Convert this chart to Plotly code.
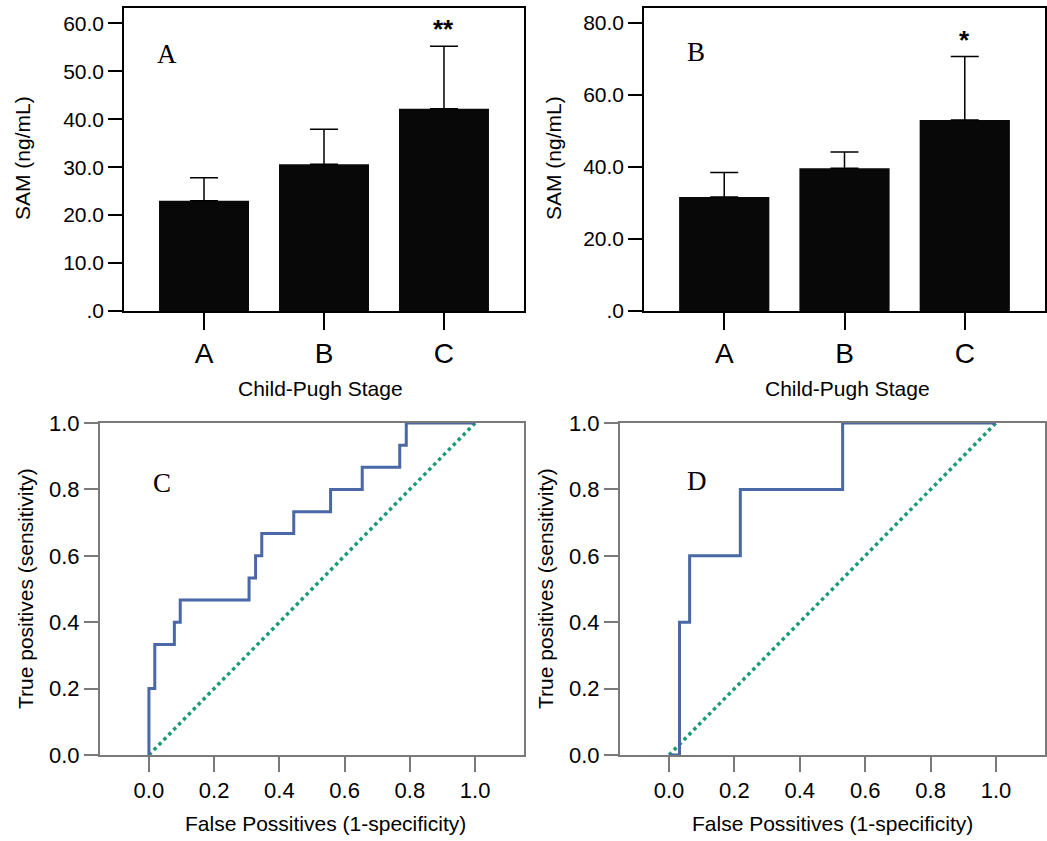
import plotly.graph_objects as go

# ---------------- data ----------------
stages = ["A", "B", "C"]
sam_a_mean = [23.0, 30.6, 42.2]
sam_a_sd = [4.8, 7.3, 13.0]
sam_a_sig = ["", "", "**"]
sam_b_mean = [31.7, 39.7, 53.1]
sam_b_sd = [6.8, 4.5, 17.6]
sam_b_sig = ["", "", "*"]

bar_a_tickvals = [0, 10, 20, 30, 40, 50, 60]
bar_a_ticktext = [".0", "10.0", "20.0", "30.0", "40.0", "50.0", "60.0"]
bar_b_tickvals = [0, 20, 40, 60, 80]
bar_b_ticktext = [".0", "20.0", "40.0", "60.0", "80.0"]

roc_c_fpr = [0.0, 0.018, 0.078, 0.096, 0.307, 0.327, 0.346, 0.444, 0.557, 0.654, 0.769, 0.789, 1.0]
roc_c_tpr = [0.0, 0.200, 0.333, 0.400, 0.467, 0.533, 0.600, 0.667, 0.733, 0.800, 0.867, 0.933, 1.0]
roc_d_fpr = [0.0, 0.032, 0.063, 0.218, 0.531, 1.0]
roc_d_tpr = [0.0, 0.0, 0.4, 0.6, 0.8, 1.0]
ref_x = [0.0, 1.0]
ref_y = [0.0, 1.0]
roc_tickvals = [0.0, 0.2, 0.4, 0.6, 0.8, 1.0]
roc_ticktext = ["0.0", "0.2", "0.4", "0.6", "0.8", "1.0"]

W, H = 1047, 841
SANS = "Arial, Liberation Sans, sans-serif"
SERIF = "Times New Roman, Liberation Serif, serif"
BLUE = "#4a67a6"
GREEN = "#1b9a78"
GRAY = "#7a7a7a"


def fx(px):
    return px / W


def fy(py):
    return 1 - py / H


fig = go.Figure()

# bar panels
for i, (mean, sd, sig) in enumerate([(sam_a_mean, sam_a_sd, sam_a_sig), (sam_b_mean, sam_b_sd, sam_b_sig)]):
    ax = "" if i == 0 else "2"
    fig.add_trace(go.Bar(
        x=stages, y=mean, width=0.75,
        marker=dict(color="#080808", line=dict(width=0)),
        error_y=dict(type="data", array=sd, arrayminus=[0] * len(sd), symmetric=False,
                     color="black", thickness=1.5, width=14),
        xaxis="x" + ax, yaxis="y" + ax, showlegend=False,
    ))
    for s, m, e, t in zip(stages, mean, sd, sig):
        if t:
            fig.add_annotation(x=s, y=m + e, xref="x" + ax, yref="y" + ax, text="<b>" + t + "</b>",
                               showarrow=False, yanchor="bottom", yshift=0,
                               font=dict(family=SANS, size=26, color="black"))

# ROC panels
for i, (fpr, tpr) in enumerate([(roc_c_fpr, roc_c_tpr), (roc_d_fpr, roc_d_tpr)]):
    ax = str(i + 3)
    fig.add_trace(go.Scatter(
        x=ref_x, y=ref_y, mode="lines",
        line=dict(color=GREEN, width=3.5, dash="dot"),
        xaxis="x" + ax, yaxis="y" + ax, showlegend=False, cliponaxis=False,
    ))
    fig.add_trace(go.Scatter(
        x=fpr, y=tpr, mode="lines",
        line=dict(color=BLUE, width=3, shape="vh"),
        xaxis="x" + ax, yaxis="y" + ax, showlegend=False, cliponaxis=False,
    ))

bar_x = dict(showline=True, linecolor="black", linewidth=1.5, mirror=True,
             ticks="outside", ticklen=17, tickwidth=1.5, tickcolor="black",
             showgrid=False, zeroline=False, range=[-0.667, 2.667], automargin=False,
             tickfont=dict(family=SANS, size=28, color="black"))
bar_y = dict(showline=True, linecolor="black", linewidth=1.5, mirror=True,
             ticks="outside", ticklen=14, tickwidth=1.5, tickcolor="black",
             showgrid=False, zeroline=False, automargin=False,
             tickfont=dict(family=SANS, size=21, color="black"))
roc_x = dict(showline=True, linecolor=GRAY, linewidth=2, mirror=True,
             ticks="outside", ticklen=15, tickwidth=1.5, tickcolor=GRAY,
             showgrid=False, zeroline=False, range=[-0.15, 1.15], automargin=False,
             tickvals=roc_tickvals, ticktext=roc_ticktext, layer="above traces",
             tickfont=dict(family=SANS, size=22, color="black"))
roc_y = dict(showline=True, linecolor=GRAY, linewidth=2, mirror=True,
             ticks="outside", ticklen=14, tickwidth=1.5, tickcolor=GRAY,
             showgrid=False, zeroline=False, range=[0, 1], automargin=False,
             tickvals=roc_tickvals, ticktext=roc_ticktext, layer="above traces",
             tickfont=dict(family=SANS, size=22, color="black"))

fig.update_layout(
    width=W, height=H, margin=dict(l=0, r=0, t=0, b=0, pad=0, autoexpand=False),
    paper_bgcolor="white", plot_bgcolor="white", showlegend=False,
    bargap=0.25,
    xaxis=dict(bar_x, domain=[fx(124), fx(524)], anchor="y"),
    yaxis=dict(bar_y, domain=[fy(311), fy(8)], range=[0, 63.2],
               tickvals=bar_a_tickvals, ticktext=bar_a_ticktext, anchor="x"),
    xaxis2=dict(bar_x, domain=[fx(644), fx(1045)], anchor="y2"),
    yaxis2=dict(bar_y, domain=[fy(311), fy(8)], range=[0, 84.2],
                tickvals=bar_b_tickvals, ticktext=bar_b_ticktext, anchor="x2"),
    xaxis3=dict(roc_x, domain=[fx(100), fx(524)], anchor="y3"),
    yaxis3=dict(roc_y, domain=[fy(755), fy(423)], anchor="x3"),
    xaxis4=dict(roc_x, domain=[fx(620), fx(1045)], anchor="y4"),
    yaxis4=dict(roc_y, domain=[fy(755), fy(423)], anchor="x4"),
)

# axis titles and panel letters
texts = [
    ("SAM (ng/mL)", 22, 158, -90, 21, SANS),
    ("SAM (ng/mL)", 553, 158, -90, 21, SANS),
    ("Child-Pugh Stage", 320, 388, 0, 21, SANS),
    ("Child-Pugh Stage", 847, 388, 0, 21, SANS),
    ("True positives (sensitivity)", 25, 589, -90, 21, SANS),
    ("True positives (sensitivity)", 545, 589, -90, 21, SANS),
    ("False Possitives (1-specificity)", 325, 823, 0, 21, SANS),
    ("False Possitives (1-specificity)", 832, 823, 0, 21, SANS),
    ("A", 167, 54, 0, 27, SERIF),
    ("B", 696, 52, 0, 27, SERIF),
    ("C", 162, 483, 0, 27, SERIF),
    ("D", 697, 481, 0, 27, SERIF),
]
for t, px, py, ang, sz, fam in texts:
    fig.add_annotation(x=fx(px), y=fy(py), xref="paper", yref="paper", text=t,
                       showarrow=False, textangle=ang, xanchor="center", yanchor="middle",
                       font=dict(family=fam, size=sz, color="black"))

fig.write_html("out.html", config={"displayModeBar": False},
               post_script="document.body.style.margin='0';document.body.style.overflow='hidden';")
